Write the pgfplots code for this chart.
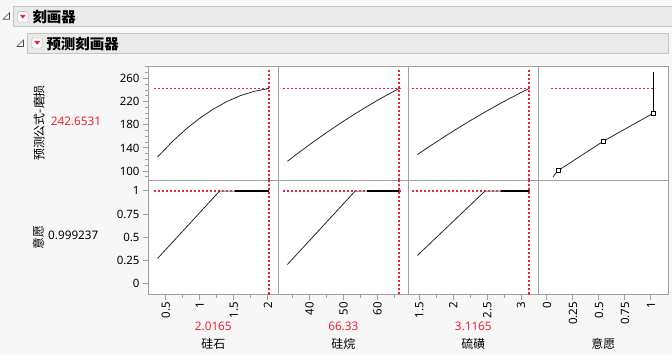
\documentclass[border=0pt]{standalone}
\usepackage{pgfplots}
\pgfplotsset{compat=1.18}
\usepackage{fontspec}
\setmainfont{Noto Sans}
\newfontfamily\cjk{Noto Sans CJK SC}
\definecolor{bordergray}{RGB}{160,160,160}
\definecolor{jred}{RGB}{235,35,55}
\definecolor{bgc}{RGB}{247,247,247}
\definecolor{barfill}{RGB}{234,234,234}
\definecolor{barline}{RGB}{196,196,196}
\definecolor{curve}{RGB}{40,40,40}
\newcommand\numfont{\fontsize{11.5}{13}\selectfont}
\newcommand\labfont{\cjk\fontsize{12}{14}\selectfont}
\pgfplotsset{
 prof/.style={scale only axis, width=130bp, clip=false,
   axis line style={draw=bordergray, line width=1bp},
   tick style={draw=bordergray, line width=1bp},
   tick align=outside, major tick length=5.5bp, minor tick length=3.5bp,
   ticklabel style={font=\numfont, text=black},
   /pgf/number format/assume math mode=true,
   xtick pos=bottom, ytick pos=left,
   axis background/.style={fill=white},
   anchor=south west},
 toprow/.style={height=114bp, ymin=83.8, ymax=280.63},
 botrow/.style={height=114bp, ymin=-0.116, ymax=1.112},
 curvest/.style={color=curve, line width=0.8bp, no markers, solid},
 flatst/.style={color=black, line width=1.1bp, no markers, solid},
 greyst/.style={color=gray, line width=1bp, no markers, solid},
 rdash/.style={color=jred, line width=1.1bp, dash pattern=on 2bp off 2bp, no markers},
 xrot/.style={xticklabel style={rotate=90, anchor=east, inner sep=2bp}},
}
\begin{document}
\begin{tikzpicture}
\useasboundingbox (0,0) rectangle (672bp,355bp);
\fill[bgc] (0,0) rectangle (672bp,355bp);
% header bars
\draw[barline, fill=barfill] (13.5bp,328.5bp) rectangle (673bp,348.5bp);
\draw[barline, fill=barfill] (27.5bp,301.5bp) rectangle (668.5bp,321.5bp);
\draw[gray!60!black, line width=0.6bp] (9.5bp,342.3bp)--(9.5bp,335.7bp)--(3bp,335.7bp)--cycle;
\draw[gray!60!black, line width=0.6bp] (23.5bp,315bp)--(23.5bp,308.5bp)--(17bp,308.5bp)--cycle;
\draw[gray!70, fill=white, rounded corners=1.5bp] (17.3bp,333bp) rectangle (28.3bp,343.3bp);
\fill[jred] (19.8bp,340.2bp)--(25.8bp,340.2bp)--(22.8bp,336.4bp)--cycle;
\draw[gray!70, fill=white, rounded corners=1.5bp] (31.7bp,307bp) rectangle (42.7bp,317bp);
\fill[jred] (34.2bp,314bp)--(40.2bp,314bp)--(37.2bp,310.2bp)--cycle;
\node[anchor=west, inner sep=0] at (32.3bp,338.5bp) {\cjk\bfseries\fontsize{14.5}{16}\selectfont 刻画器};
\node[anchor=west, inner sep=0] at (46.3bp,311.5bp) {\cjk\bfseries\fontsize{14.5}{16}\selectfont 预测刻画器};
% left labels
\node[rotate=90, inner sep=0] at (39bp,232bp) {\labfont 预测公式-磨损};
\node[inner sep=0, text=jred] at (76bp,233.3bp) {\fontsize{11.8}{13}\selectfont 242.6531};
\node[rotate=90, inner sep=0] at (38.3bp,117.3bp) {\labfont 意愿};
\node[inner sep=0] at (73.3bp,120bp) {\fontsize{11.8}{13}\selectfont 0.999237};
% bottom labels
\node[inner sep=0, text=jred] at (213.3bp,29bp) {\fontsize{11.8}{13}\selectfont 2.0165};
\node[inner sep=0, text=jred] at (343.3bp,29bp) {\fontsize{11.8}{13}\selectfont 66.33};
\node[inner sep=0, text=jred] at (473.3bp,29bp) {\fontsize{11.8}{13}\selectfont 3.1165};
\node[inner sep=0] at (213.3bp,11bp) {\labfont 硅石};
\node[inner sep=0] at (343.3bp,11bp) {\labfont 硅烷};
\node[inner sep=0] at (473.3bp,11bp) {\labfont 硫磺};
\node[inner sep=0] at (603.3bp,11bp) {\labfont 意愿};

% ===== top row =====
\begin{axis}[prof, toprow, at={(148.5bp,174.5bp)}, xmin=0.247, xmax=2.156, xtick=\empty,
  ytick={100,140,180,220,260}, minor ytick={90,110,120,130,150,160,170,190,200,210,230,240,250,270,280}]
\addplot[rdash] coordinates {(0.327,242.65)(2.03,242.65)};
\addplot[rdash] coordinates {(2.0165,83.8)(2.0165,276)};
\addplot[curvest] coordinates {(0.38,124.4)(0.6,151.3)(0.8,172.8)(1.0,191.4)(1.2,207.2)(1.4,220.3)(1.6,230.5)(1.8,237.8)(2.0165,242.65)};
\end{axis}
\begin{axis}[prof, toprow, at={(278.5bp,174.5bp)}, xmin=30.88, xmax=69.125, xtick=\empty, ytick=\empty]
\addplot[rdash] coordinates {(32.2,242.65)(66.8,242.65)};
\addplot[rdash] coordinates {(66.33,83.8)(66.33,276)};
\addplot[curvest] coordinates {(33.5,116.9)(36,128.2)(40,145.7)(45,166.5)(50,186.2)(55,204.8)(60,222.2)(63,232.1)(66.33,242.65)};
\end{axis}
\begin{axis}[prof, toprow, at={(408.5bp,174.5bp)}, xmin=1.339, xmax=3.2566, xtick=\empty, ytick=\empty]
\addplot[rdash] coordinates {(1.39,242.65)(3.14,242.65)};
\addplot[rdash] coordinates {(3.1165,83.8)(3.1165,276)};
\addplot[curvest] coordinates {(1.47,128.6)(1.75,150.5)(2.0,169.2)(2.25,187.1)(2.5,204.2)(2.75,220.4)(3.0,235.8)(3.1165,242.65)};
\end{axis}
\begin{axis}[prof, toprow, at={(538.5bp,174.5bp)}, xmin=-0.081, xmax=1.169, xtick=\empty, ytick=\empty]
\addplot[rdash] coordinates {(0.042,242.65)(1.02,242.65)};
\addplot[curvest] coordinates {(0.058,89.5)(0.08,95.5)(0.11,101.2)(0.544,151.8)(1.025,200.2)};
\addplot[flatst] coordinates {(1.025,200.2)(1.025,271)};
\addplot[only marks, mark=square*, mark size=2bp, mark options={fill=white, draw=black, line width=0.7bp}] coordinates {(0.11,101.2)(0.544,151.8)(1.025,200.2)};
\end{axis}

% ===== bottom row =====
\begin{axis}[prof, botrow, xrot, at={(148.5bp,60.5bp)}, xmin=0.247, xmax=2.156,
  xtick={0.5,1,1.5,2}, minor xtick={0.75,1.25,1.75}, ytick={0,0.25,0.5,0.75,1}]
\addplot[rdash] coordinates {(0.327,0.999)(2.03,0.999)};
\addplot[rdash] coordinates {(2.0165,-0.116)(2.0165,1.112)};
\addplot[curvest] coordinates {(0.38,0.272)(1.29,0.997)};
\addplot[greyst] coordinates {(1.29,0.997)(1.52,0.999)};
\addplot[flatst] coordinates {(1.52,0.999)(2.0165,0.999)};
\end{axis}
\begin{axis}[prof, botrow, xrot, at={(278.5bp,60.5bp)}, xmin=30.88, xmax=69.125,
  xtick={40,50,60}, minor xtick={35,45,55,65}, ytick=\empty]
\addplot[rdash] coordinates {(32.2,0.999)(66.8,0.999)};
\addplot[rdash] coordinates {(66.33,-0.116)(66.33,1.112)};
\addplot[curvest] coordinates {(33.5,0.207)(53.4,0.997)};
\addplot[greyst] coordinates {(53.4,0.997)(57,0.999)};
\addplot[flatst] coordinates {(57,0.999)(66.33,0.999)};
\end{axis}
\begin{axis}[prof, botrow, xrot, at={(408.5bp,60.5bp)}, xmin=1.339, xmax=3.2566,
  xtick={1.5,2,2.5,3}, minor xtick={1.75,2.25,2.75}, ytick=\empty]
\addplot[rdash] coordinates {(1.39,0.999)(3.14,0.999)};
\addplot[rdash] coordinates {(3.1165,-0.116)(3.1165,1.112)};
\addplot[curvest] coordinates {(1.47,0.304)(2.466,0.997)};
\addplot[greyst] coordinates {(2.466,0.997)(2.70,0.999)};
\addplot[flatst] coordinates {(2.70,0.999)(3.1165,0.999)};
\end{axis}
\begin{axis}[prof, botrow, xrot, at={(538.5bp,60.5bp)}, xmin=-0.081, xmax=1.169,
  xtick={0,0.25,0.5,0.75,1}, ytick=\empty]
\addplot[draw=none] coordinates {(0,0)};
\end{axis}
\end{tikzpicture}
\end{document}
